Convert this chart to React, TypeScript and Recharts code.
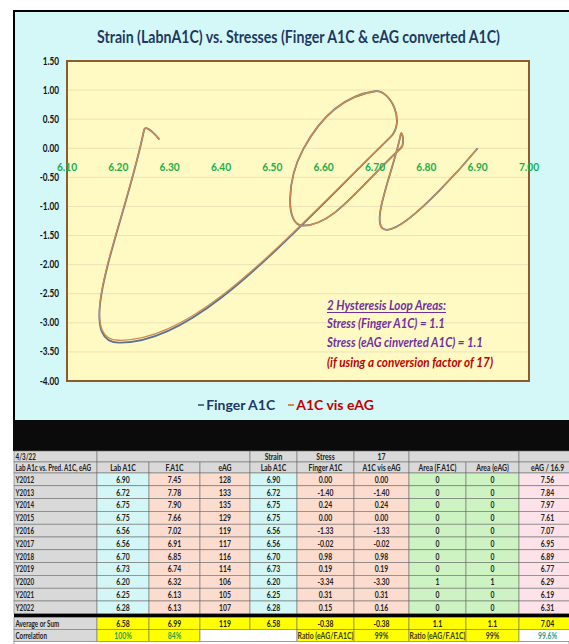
import React from 'react';
import {
  ScatterChart,
  Scatter,
  XAxis,
  YAxis,
  CartesianGrid,
  ReferenceDot,
  ReferenceArea,
  Legend,
} from 'recharts';

// ---------- data ----------
const years = ['Y2012', 'Y2013', 'Y2014', 'Y2015', 'Y2016', 'Y2017', 'Y2018', 'Y2019', 'Y2020', 'Y2021', 'Y2022'];
const labA1C = [6.9, 6.72, 6.75, 6.75, 6.56, 6.56, 6.7, 6.73, 6.2, 6.25, 6.28];
const fingerA1C = [7.45, 7.78, 7.9, 7.66, 7.02, 6.91, 6.85, 6.74, 6.32, 6.13, 6.13];
const eAG = [128, 133, 135, 129, 119, 117, 116, 114, 106, 105, 107];
const stressFinger = [0.0, -1.4, 0.24, 0.0, -1.33, -0.02, 0.98, 0.19, -3.34, 0.31, 0.15];
const stressEag = [0.0, -1.4, 0.24, 0.0, -1.33, -0.02, 0.98, 0.19, -3.3, 0.31, 0.16];
const areaFinger = [0, 0, 0, 0, 0, 0, 0, 0, 1, 0, 0];
const areaEag = [0, 0, 0, 0, 0, 0, 0, 0, 1, 0, 0];
const eagDiv = [7.56, 7.84, 7.97, 7.61, 7.07, 6.95, 6.89, 6.77, 6.29, 6.19, 6.31];
const averageRow = ['6.58', '6.99', '119', '6.58', '-0.38', '-0.38', '1.1', '1.1', '7.04'];

const xTicks = [6.1, 6.2, 6.3, 6.4, 6.5, 6.6, 6.7, 6.8, 6.9, 7.0];
const yTicks = [1.5, 1.0, 0.5, 0.0, -0.5, -1.0, -1.5, -2.0, -2.5, -3.0, -3.5, -4.0];

const seriesNames = ['Finger A1C', 'A1C vis eAG'];
const titleText = 'Strain (LabnA1C) vs. Stresses (Finger A1C & eAG converted A1C)';
const noteLines = [
  '2 Hysteresis Loop Areas:',
  'Stress (Finger A1C) = 1.1',
  'Stress (eAG cinverted A1C) = 1.1',
  '(if using a conversion factor of 17)',
];

const fingerData = labA1C.map((x, i) => ({ x, y: stressFinger[i] }));
const eagData = labA1C.map((x, i) => ({ x, y: stressEag[i] }));

// ---------- style ----------
const FONT = 'Lato, "Open Sans", "Noto Sans", sans-serif';
const seriesColors = ['#5b7196', '#cf8a4c'];
const legendTextColors = ['#1f3864', '#c00000'];

// Smooth curve through the points, control lengths proportional to the
// adjacent segment lengths (like a spreadsheet's "smoothed line").
function smoothPath(pts: { x: number; y: number }[], t = 0.5) {
  if (!pts || !pts.length) return '';
  const n = pts.length;
  const cin: { x: number; y: number }[] = [];
  const cout: { x: number; y: number }[] = [];
  for (let i = 0; i < n; i++) {
    const p1 = pts[i];
    if (i === 0 || i === n - 1) {
      cin.push(p1);
      cout.push(p1);
      continue;
    }
    const p0 = pts[i - 1];
    const p2 = pts[i + 1];
    const d01 = Math.hypot(p1.x - p0.x, p1.y - p0.y);
    const d12 = Math.hypot(p2.x - p1.x, p2.y - p1.y);
    const s = d01 + d12 || 1;
    const fa = (t * d01) / s;
    const fb = (t * d12) / s;
    const dx = p2.x - p0.x;
    const dy = p2.y - p0.y;
    cin.push({ x: p1.x - fa * dx, y: p1.y - fa * dy });
    cout.push({ x: p1.x + fb * dx, y: p1.y + fb * dy });
  }
  let d = `M${pts[0].x},${pts[0].y}`;
  for (let i = 0; i < n - 1; i++) {
    const a = cout[i];
    const b = cin[i + 1];
    const p = pts[i + 1];
    d += ` C${a.x},${a.y} ${b.x},${b.y} ${p.x},${p.y}`;
  }
  return d;
}

const smoothLine = (color: string, width: number) => (props: any) => (
  <path d={smoothPath(props.points)} fill="none" stroke={color} strokeWidth={width} strokeLinejoin="round" />
);

const YTick = (props: any) => {
  const { x, y, payload } = props;
  return (
    <text
      transform={`translate(${x},${y + 3.5}) scale(0.78,1)`}
      textAnchor="end"
      fontSize={10.5}
      fontWeight={700}
      fill="#111"
      fontFamily={FONT}
    >
      {Number(payload.value).toFixed(2)}
    </text>
  );
};

const xLabelContent = (text: string) => (props: any) => {
  const vb = props.viewBox || {};
  const cx = (vb.x || 0) + (vb.width || 0) / 2;
  const cy = (vb.y || 0) + (vb.height || 0);
  return (
    <text
      transform={`translate(${cx},${cy + 23}) scale(0.85,1)`}
      textAnchor="middle"
      fontSize={12}
      fontWeight={700}
      fill="#19b04b"
      fontFamily={FONT}
    >
      {text}
    </text>
  );
};

const renderLegend = (props: any) => {
  const payload = [...(props.payload || [])].sort(
    (a: any, b: any) => seriesNames.indexOf(a.value) - seriesNames.indexOf(b.value)
  );
  return (
    <div
      style={{
        display: 'flex',
        justifyContent: 'center',
        gap: 13,
        fontFamily: FONT,
        fontWeight: 700,
        fontSize: 14,
        paddingRight: 10,
        lineHeight: '20px',
      }}
    >
      {payload.map((entry: any, i: number) => {
        const k = Math.max(0, seriesNames.indexOf(entry.value));
        return (
          <span key={i} style={{ color: legendTextColors[k], display: 'flex', alignItems: 'center' }}>
            <span
              style={{ display: 'inline-block', width: 6, height: 1.5, background: seriesColors[k], marginRight: 2 }}
            />
            {entry.value}
          </span>
        );
      })}
    </div>
  );
};

// ---------- table ----------
const GRAY = '#d9d9d9';
const CYAN = '#d3f6f6';
const PEACH = '#fcdccf';
const GREEN = '#cdf3c2';
const PINK = '#fde2ea';
const YELLOW = '#ffff00';
const colEdges = [14, 97, 149, 200, 250, 297, 354, 409, 466, 519, 576];
const dataBg = [GRAY, CYAN, PEACH, PEACH, CYAN, PEACH, PEACH, GREEN, GREEN, PINK];
const header1 = [
  { t: '4/3/22', s: 1 },
  { t: '', s: 3 },
  { t: 'Strain', s: 1 },
  { t: 'Stress', s: 1 },
  { t: '17', s: 1 },
  { t: '', s: 2 },
  { t: '', s: 1 },
];
const header2 = ['Lab A1c vs. Pred. A1C, eAG', 'Lab A1C', 'F.A1C', 'eAG', 'Lab A1C', 'Finger A1C', 'A1C vis eAG', 'Area (F.A1C)', 'Area (eAG)', 'eAG / 16.9'];
const corrRow = [
  { t: 'Correlation', s: 1, bg: GRAY, c: '#222' },
  { t: '100%', s: 1, bg: YELLOW, c: '#1fa34a' },
  { t: '84%', s: 1, bg: YELLOW, c: '#1fa34a' },
  { t: '', s: 2, bg: '#ffffff', c: '#222' },
  { t: 'Ratio (eAG/F.A1C)', s: 1, bg: YELLOW, c: '#3a3a1a' },
  { t: '99%', s: 1, bg: YELLOW, c: '#3a3a1a' },
  { t: 'Ratio (eAG/F.A1C)', s: 1, bg: YELLOW, c: '#3a3a1a' },
  { t: '99%', s: 1, bg: YELLOW, c: '#3a3a1a' },
  { t: '99.6%', s: 1, bg: '#ffffff', c: '#2a9d8f' },
];

const TCell = ({ c0, span, y0, y1, fill, text, color, left }: any) => {
  const x0 = colEdges[c0];
  const x1 = colEdges[c0 + span];
  const tx = left ? x0 + 1.5 : (x0 + x1) / 2;
  const ty = (y0 + y1) / 2 + 3.3;
  return (
    <g>
      <rect x={x0} y={y0} width={x1 - x0} height={y1 - y0} fill={fill} stroke="#6f6f6f" strokeWidth={0.6} />
      {text ? (
        <text
          transform={`translate(${tx},${ty}) scale(${left ? 0.64 : 0.7},1)`}
          textAnchor={left ? 'start' : 'middle'}
          fontSize={9.8}
          fontWeight={700}
          fill={color || '#222'}
          fontFamily={FONT}
        >
          {text}
        </text>
      ) : null}
    </g>
  );
};

const spanRow = (cells: any[], y0: number, y1: number, key: string) => {
  let c = 0;
  return (
    <g key={key}>
      {cells.map((cell, i) => {
        const el = (
          <TCell
            key={i}
            c0={c}
            span={cell.s}
            y0={y0}
            y1={y1}
            fill={cell.bg || GRAY}
            text={cell.t}
            color={cell.c}
            left={i === 0}
          />
        );
        c += cell.s;
        return el;
      })}
    </g>
  );
};

const Table = () => {
  const h1 = [451, 462];
  const h2 = [462, 473];
  const rowH = 12.8;
  const dataTop = 473;
  const dataRows = years.map((yr, i) => [
    yr,
    labA1C[i].toFixed(2),
    fingerA1C[i].toFixed(2),
    String(eAG[i]),
    labA1C[i].toFixed(2),
    stressFinger[i].toFixed(2),
    stressEag[i].toFixed(2),
    String(areaFinger[i]),
    String(areaEag[i]),
    eagDiv[i].toFixed(2),
  ]);
  const sepTop = dataTop + rowH * years.length;
  const avgTop = sepTop + 3.5;
  const corrTop = avgTop + 12;
  return (
    <g>
      {spanRow(header1, h1[0], h1[1], 'h1')}
      {header2.map((t, i) => (
        <TCell key={'h2' + i} c0={i} span={1} y0={h2[0]} y1={h2[1]} fill={GRAY} text={t} left={i === 0} />
      ))}
      {dataRows.map((row, r) => (
        <g key={'r' + r}>
          {row.map((t, i) => (
            <TCell
              key={i}
              c0={i}
              span={1}
              y0={dataTop + r * rowH}
              y1={dataTop + (r + 1) * rowH}
              fill={dataBg[i]}
              text={t}
              left={i === 0}
            />
          ))}
        </g>
      ))}
      <rect x={14} y={sepTop} width={555} height={3.5} fill="#000" />
      <TCell c0={0} span={1} y0={avgTop} y1={avgTop + 12} fill={GRAY} text="Average or Sum" left />
      {averageRow.map((t, i) => (
        <TCell key={'a' + i} c0={i + 1} span={1} y0={avgTop} y1={avgTop + 12} fill={YELLOW} text={t} />
      ))}
      {spanRow(corrRow, corrTop, corrTop + 12, 'corr')}
      <rect x={14} y={corrTop + 12} width={555} height={10} fill="#ffffff" stroke="#6f6f6f" strokeWidth={0.6} />
    </g>
  );
};

export default function App() {
  return (
    <div style={{ position: 'absolute', left: 0, top: 0, width: 569, height: 644, background: '#fff', overflow: 'hidden' }}>
      {/* chart frame */}
      <div
        style={{
          position: 'absolute',
          left: 13,
          top: 10,
          width: 556,
          height: 410,
          background: '#d4f8f8',
          boxSizing: 'border-box',
          borderTop: '2px solid #000',
          borderLeft: '2px solid #000',
        }}
      />
      <div style={{ position: 'absolute', left: 13, top: 10, width: 556, height: 410 }}>
        <ScatterChart width={556} height={410} margin={{ top: 51, right: 40, bottom: 39, left: 0 }}>
          <CartesianGrid stroke="#ebe2b6" strokeWidth={1} fill="#fffac4" fillOpacity={1} />
          <XAxis
            type="number"
            dataKey="x"
            domain={[6.1, 7.0]}
            ticks={xTicks}
            allowDataOverflow
            height={0}
            tick={false}
            axisLine={false}
            tickLine={false}
          />
          <YAxis
            type="number"
            dataKey="y"
            domain={[-4, 1.5]}
            ticks={yTicks}
            allowDataOverflow
            width={54}
            tick={<YTick />}
            axisLine={false}
            tickLine={false}
          />
          <Scatter
            name={seriesNames[0]}
            data={fingerData}
            fill={seriesColors[0]}
            line={smoothLine(seriesColors[0], 1.8)}
            lineType="joint"
            shape={() => <g />}
            isAnimationActive={false}
          />
          <Scatter
            name={seriesNames[1]}
            data={eagData}
            fill={seriesColors[1]}
            line={smoothLine(seriesColors[1], 1.3)}
            lineType="joint"
            shape={() => <g />}
            isAnimationActive={false}
          />
          {xTicks.map((v) => (
            <ReferenceDot
              key={v}
              x={v}
              y={0}
              r={0}
              fill="none"
              stroke="none"
              ifOverflow="visible"
              label={{ content: xLabelContent(v.toFixed(2)) }}
            />
          ))}
          <ReferenceArea x1={6.1} x2={7.0} y1={-4} y2={1.5} fill="none" stroke="#8a5c2e" strokeWidth={2} ifOverflow="visible" />
          <Legend
            layout="horizontal"
            verticalAlign="middle"
            align="center"
            content={renderLegend}
            wrapperStyle={{ top: 385, left: 0, width: 556 }}
          />
        </ScatterChart>
      </div>
      <svg
        width={569}
        height={644}
        style={{ position: 'absolute', left: 0, top: 0, pointerEvents: 'none' }}
      >
        <text
          x={298.5}
          y={43}
          textAnchor="middle"
          fontSize={16.5}
          fontWeight={700}
          fill="#1f3864"
          fontFamily={FONT}
          textLength={403}
          lengthAdjust="spacingAndGlyphs"
        >
          {titleText}
        </text>
        {[
          { y: 310, w: 119, c: '#7030a0' },
          { y: 328, w: 118, c: '#7030a0' },
          { y: 347, w: 156, c: '#7030a0' },
          { y: 367, w: 166, c: '#c00000' },
        ].map((l, i) => (
          <text
            key={i}
            x={327}
            y={l.y}
            fontSize={14}
            fontWeight={700}
            fontStyle="italic"
            fill={l.c}
            fontFamily={FONT}
            textLength={l.w}
            lengthAdjust="spacingAndGlyphs"
          >
            {noteLines[i]}
          </text>
        ))}
        <line x1={327} x2={446} y1={312.5} y2={312.5} stroke="#7030a0" strokeWidth={1} />
        <rect x={13} y={420} width={556} height={31} fill="#0b0b0b" />
        <Table />
      </svg>
    </div>
  );
}
